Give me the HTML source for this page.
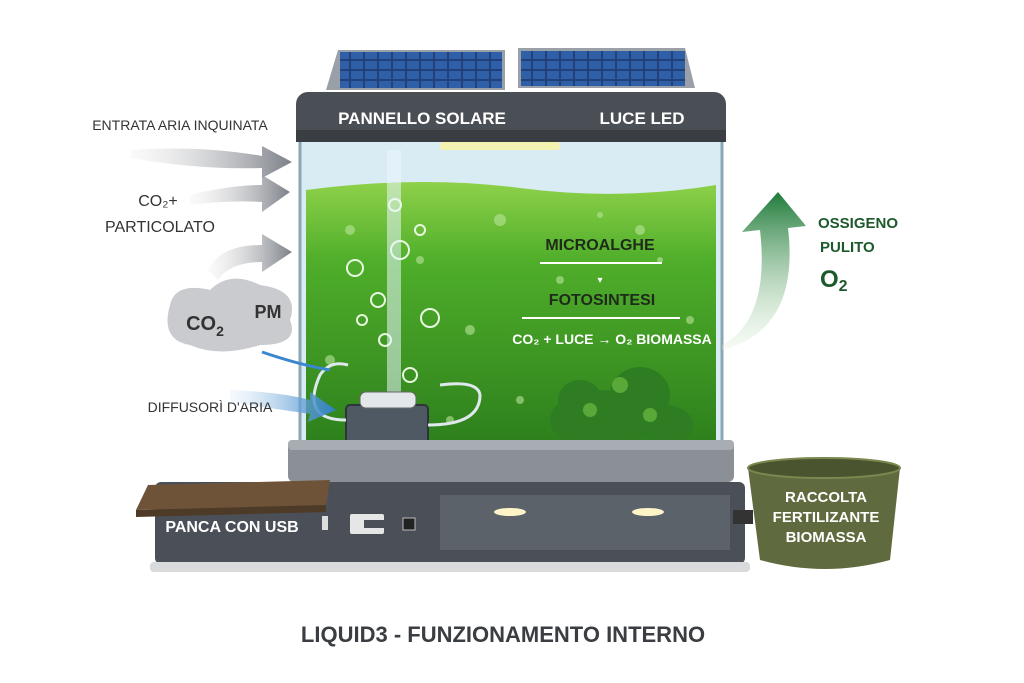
<!DOCTYPE html>
<html><head><meta charset="utf-8"><style>
html,body{margin:0;padding:0;background:#fff;}
svg{display:block;font-family:"Liberation Sans",sans-serif;}
</style></head><body>
<svg width="1024" height="683" viewBox="0 0 1024 683" xmlns="http://www.w3.org/2000/svg">
<defs>
<linearGradient id="water" x1="0" y1="0" x2="0" y2="1">
<stop offset="0" stop-color="#8fd14a"/><stop offset="0.3" stop-color="#4fae2a"/><stop offset="1" stop-color="#2d7f1c"/>
</linearGradient>
<linearGradient id="garrow" x1="0" y1="1" x2="0" y2="0">
<stop offset="0" stop-color="#e3f2dc" stop-opacity="0.3"/><stop offset="1" stop-color="#1f7a3a"/>
</linearGradient>
<linearGradient id="grey" x1="0" y1="0" x2="1" y2="0">
<stop offset="0" stop-color="#e6e6e6" stop-opacity="0.2"/><stop offset="1" stop-color="#7c8088"/>
</linearGradient>
<linearGradient id="blue" x1="0" y1="0" x2="1" y2="0">
<stop offset="0" stop-color="#cfe3f4" stop-opacity="0.2"/><stop offset="1" stop-color="#2e7fc8"/>
</linearGradient>
<pattern id="cells" width="14" height="10" patternUnits="userSpaceOnUse">
<rect width="14" height="10" fill="#22417a"/><rect x="1" y="1" width="12" height="8" fill="#2f5fa6"/>
</pattern>
</defs>

<!-- solar panels -->
<polygon points="338,50 505,50 505,90 326,90" fill="#9aa0a8"/>
<rect x="340" y="52" width="162" height="36" fill="url(#cells)"/>
<polygon points="518,48 685,48 695,88 518,88" fill="#9aa0a8"/>
<rect x="521" y="51" width="164" height="35" fill="url(#cells)"/>

<!-- tank glass -->
<rect x="300" y="130" width="422" height="320" rx="8" fill="#d9ecf3" stroke="#8aa6b4" stroke-width="3"/>
<!-- water -->
<path d="M306,190 Q420,175 520,188 T716,185 L716,446 L306,446 Z" fill="url(#water)"/>
<!-- bubbles -->
<g fill="#b9e59a" opacity="0.6">
<circle cx="350" cy="230" r="5"/><circle cx="420" cy="260" r="4"/><circle cx="500" cy="220" r="6"/><circle cx="560" cy="280" r="4"/><circle cx="640" cy="230" r="5"/><circle cx="690" cy="320" r="4"/><circle cx="470" cy="330" r="5"/><circle cx="520" cy="400" r="4"/><circle cx="330" cy="360" r="5"/><circle cx="600" cy="215" r="3"/><circle cx="660" cy="260" r="3"/><circle cx="450" cy="420" r="4"/>
</g>
<g fill="none" stroke="#e8f8e0" stroke-width="2">
<circle cx="355" cy="268" r="8"/><circle cx="378" cy="300" r="7"/><circle cx="400" cy="250" r="9"/><circle cx="385" cy="340" r="6"/><circle cx="430" cy="318" r="9"/><circle cx="410" cy="375" r="7"/><circle cx="395" cy="205" r="6"/><circle cx="362" cy="320" r="5"/><circle cx="420" cy="230" r="5"/>
</g>
<rect x="387" y="150" width="14" height="250" fill="#e9f6ff" opacity="0.55"/>
<!-- plants -->
<g fill="#2f7d22">
<ellipse cx="600" cy="420" rx="50" ry="30"/><ellipse cx="640" cy="395" rx="30" ry="28"/><ellipse cx="580" cy="400" rx="22" ry="20"/><ellipse cx="665" cy="425" rx="28" ry="20"/>
</g>
<g fill="#5aa838"><circle cx="620" cy="385" r="8"/><circle cx="590" cy="410" r="7"/><circle cx="650" cy="415" r="7"/></g>
<!-- air pump -->
<rect x="346" y="405" width="82" height="48" rx="4" fill="#4f5963" stroke="#2d343b" stroke-width="2"/>
<rect x="360" y="392" width="56" height="16" rx="6" fill="#e4e7ea" stroke="#666"/>
<path d="M428,425 Q480,425 480,395 Q478,380 440,385" fill="none" stroke="#dfe8ec" stroke-width="3"/>
<path d="M346,420 Q300,420 320,375 Q330,360 348,365" fill="none" stroke="#dfe8ec" stroke-width="3"/>
<path d="M378,440 Q370,480 340,490" fill="none" stroke="#333" stroke-width="2"/>
<path d="M380,450 Q410,490 410,520" fill="none" stroke="#333" stroke-width="2"/>

<!-- top cap -->
<rect x="296" y="92" width="430" height="50" rx="12" fill="#4a4e55"/>
<rect x="296" y="130" width="430" height="12" fill="#3a3d42"/>
<rect x="440" y="142" width="120" height="8" rx="3" fill="#f4f2b0"/>
<text x="422" y="124" font-size="17" font-weight="bold" fill="#fff" text-anchor="middle">PANNELLO SOLARE</text>
<text x="642" y="124" font-size="17" font-weight="bold" fill="#fff" text-anchor="middle">LUCE LED</text>

<!-- tank texts -->
<text x="600" y="250" font-size="16" font-weight="bold" fill="#1f2b1a" text-anchor="middle">MICROALGHE</text>
<line x1="540" y1="263" x2="662" y2="263" stroke="#fff" stroke-width="2"/>
<text x="600" y="283" font-size="10" fill="#fff" text-anchor="middle">▾</text>
<text x="602" y="305" font-size="16" font-weight="bold" fill="#1f2b1a" text-anchor="middle">FOTOSINTESI</text>
<line x1="522" y1="318" x2="680" y2="318" stroke="#fff" stroke-width="2"/>
<text x="612" y="344" font-size="14" font-weight="bold" fill="#fff" text-anchor="middle">CO₂ + LUCE → O₂ BIOMASSA</text>

<!-- base -->
<rect x="288" y="440" width="446" height="42" rx="6" fill="#8b9097"/>
<rect x="288" y="440" width="446" height="10" rx="4" fill="#a8adb3"/>
<rect x="155" y="482" width="590" height="82" rx="6" fill="#4b5058"/>
<rect x="440" y="495" width="290" height="55" fill="#5c626a"/>
<ellipse cx="510" cy="512" rx="16" ry="4" fill="#fff3c8"/><ellipse cx="648" cy="512" rx="16" ry="4" fill="#fff3c8"/>
<rect x="150" y="562" width="600" height="10" rx="4" fill="#d8dadc"/>
<polygon points="148,485 330,480 326,505 136,510" fill="#6e5338"/>
<polygon points="136,510 326,505 326,512 136,517" fill="#4d3a27"/>
<text x="232" y="532" font-size="16" font-weight="bold" fill="#fff" text-anchor="middle">PANCA CON USB</text>
<rect x="322" y="516" width="6" height="14" fill="#ddd"/>
<rect x="350" y="514" width="34" height="20" rx="2" fill="#e6e6e6"/><rect x="364" y="520" width="20" height="8" fill="#4b5058"/>
<rect x="403" y="518" width="12" height="12" fill="#222" stroke="#bbb"/>
<rect x="733" y="510" width="20" height="14" fill="#333"/>

<!-- pot -->
<path d="M748,468 L900,468 L890,560 Q824,578 760,560 Z" fill="#5f6b3e"/>
<ellipse cx="824" cy="468" rx="76" ry="10" fill="#4a5530" stroke="#7a874f" stroke-width="2"/>
<text x="826" y="502" font-size="15" font-weight="bold" fill="#fff" text-anchor="middle">RACCOLTA</text>
<text x="826" y="522" font-size="15" font-weight="bold" fill="#fff" text-anchor="middle">FERTILIZANTE</text>
<text x="826" y="542" font-size="15" font-weight="bold" fill="#fff" text-anchor="middle">BIOMASSA</text>

<!-- green arrow -->
<path d="M722,345 Q770,320 760,230 L742,232 L778,192 L806,226 L788,228 Q800,330 722,350 Z" fill="url(#garrow)"/>
<text x="818" y="228" font-size="15" font-weight="bold" fill="#1c5a2c">OSSIGENO</text>
<text x="820" y="252" font-size="15" font-weight="bold" fill="#1c5a2c">PULITO</text>
<text x="820" y="287" font-size="24" font-weight="bold" fill="#1c5a2c">O<tspan font-size="16" dy="4">2</tspan></text>

<!-- left arrows -->
<text x="180" y="130" font-size="14" fill="#333" text-anchor="middle">ENTRATA ARIA INQUINATA</text>
<path d="M130,150 Q200,145 262,156 L262,146 L292,162 L262,178 L262,168 Q200,170 130,158 Z" fill="url(#grey)"/>
<path d="M190,195 Q230,185 262,185 L262,175 L290,192 L262,212 L262,202 Q230,200 190,205 Z" fill="url(#grey)"/>
<text x="158" y="206" font-size="16" fill="#333" text-anchor="middle">CO₂+</text>
<text x="160" y="232" font-size="16" fill="#333" text-anchor="middle">PARTICOLATO</text>
<path d="M208,270 Q220,245 262,245 L262,234 L292,252 L262,272 L262,262 Q230,262 218,280 Z" fill="url(#grey)"/>
<path d="M170,305 Q175,282 210,290 Q230,270 260,285 Q300,290 290,320 Q300,345 260,345 Q220,358 190,345 Q160,340 170,305 Z" fill="#c9cbce"/>
<text x="205" y="330" font-size="20" font-weight="bold" fill="#333" text-anchor="middle">CO<tspan font-size="14" dy="6">2</tspan></text>
<text x="268" y="318" font-size="18" font-weight="bold" fill="#333" text-anchor="middle">PM</text>
<path d="M262,352 Q300,365 330,370" fill="none" stroke="#3a87d0" stroke-width="3"/>
<path d="M230,390 Q280,392 310,400 L310,392 L336,410 L308,422 L310,414 Q270,408 230,402 Z" fill="url(#blue)"/>
<text x="210" y="412" font-size="14" fill="#333" text-anchor="middle">DIFFUSORÌ D'ARIA</text>

<!-- title -->
<text x="503" y="642" font-size="22" font-weight="bold" fill="#3a3d42" text-anchor="middle">LIQUID3 - FUNZIONAMENTO INTERNO</text>
</svg>
</body></html>
